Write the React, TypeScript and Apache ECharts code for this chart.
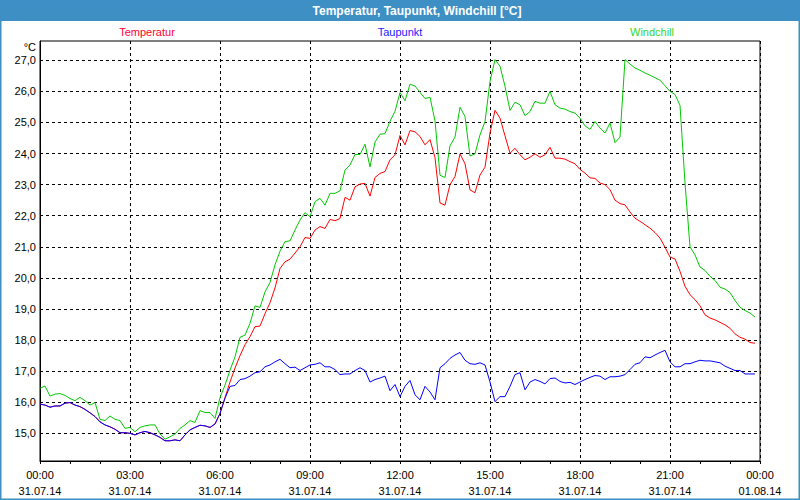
import React, { useEffect, useRef } from "react";
import * as echarts from "echarts";

const TITLE = "Temperatur, Taupunkt, Windchill [°C]";
const SERIES_NAMES = ["Temperatur", "Taupunkt", "Windchill"];
const SERIES_COLORS = ["#ff0000", "#0000ff", "#00c800"];
const LEGEND_COLORS = ["#ff0030", "#1a1aff", "#33d61a"];
const Y_TICKS = [15, 16, 17, 18, 19, 20, 21, 22, 23, 24, 25, 26, 27];
const X_TICK_HOURS = [0, 3, 6, 9, 12, 15, 18, 21, 24];
const X_TICK_DATES = ["31.07.14", "31.07.14", "31.07.14", "31.07.14", "31.07.14", "31.07.14", "31.07.14", "31.07.14", "01.08.14"];

// 10-minute readings, 00:00 .. 23:50
const taupunkt = [
  15.94, 15.91, 15.84, 15.88, 15.88, 15.97,
  15.99, 15.91, 15.86, 15.77, 15.66, 15.54,
  15.37, 15.27, 15.21, 15.13, 15.02, 15.02,
  15.0, 14.95, 15.02, 15.06, 15.02, 14.95,
  14.87, 14.76, 14.76, 14.79, 14.76, 14.95,
  15.11, 15.19, 15.26, 15.24, 15.19, 15.3,
  15.64, 16.13, 16.51, 16.54, 16.73, 16.76,
  16.84, 16.95, 16.98, 17.14, 17.2, 17.3,
  17.38, 17.24, 17.11, 17.13, 17.02, 17.11,
  17.2, 17.22, 17.27, 17.14, 17.14, 17.05,
  16.89, 16.91, 16.91, 17.02, 17.11, 17.02,
  16.65, 16.73, 16.78, 16.84, 16.37, 16.57,
  16.18, 16.51, 16.7, 16.24, 16.08, 16.51,
  16.33, 16.08, 17.11, 17.24, 17.41, 17.52,
  17.6, 17.35, 17.24, 17.22, 17.27, 17.2,
  16.65, 16.02, 16.18, 16.18, 16.51, 16.89,
  16.95, 16.4, 16.65, 16.73, 16.67, 16.59,
  16.76, 16.78, 16.67, 16.62, 16.64, 16.57,
  16.65, 16.73, 16.8, 16.86, 16.84, 16.73,
  16.82, 16.82, 16.84, 16.89, 17.05, 17.22,
  17.27, 17.46, 17.43, 17.52, 17.6, 17.67,
  17.3, 17.14, 17.14, 17.24, 17.24, 17.3,
  17.35, 17.33, 17.33, 17.3, 17.27, 17.16,
  17.09, 17.02, 17.02, 16.91, 16.91, 16.91,
];

const temperatur = [
  15.94, 15.91, 15.84, 15.88, 15.88, 15.97,
  15.99, 15.91, 15.86, 15.77, 15.66, 15.54,
  15.37, 15.27, 15.21, 15.13, 15.02, 15.02,
  15.0, 14.95, 15.02, 15.06, 15.02, 14.95,
  14.87, 14.76, 14.76, 14.79, 14.76, 14.95,
  15.11, 15.19, 15.26, 15.24, 15.19, 15.3,
  15.64, 16.15, 16.65, 17.1, 17.5, 17.85,
  18.11, 18.43, 18.45, 18.85, 19.2, 19.68,
  20.3, 20.52, 20.6, 20.8, 21.0, 21.3,
  21.27, 21.54, 21.65, 21.59, 21.88, 21.84,
  21.91, 22.59, 22.5, 22.93, 23.02, 23.04,
  22.63, 23.23, 23.36, 23.42, 23.8, 23.96,
  24.58, 24.28, 24.74, 24.7, 24.55, 24.28,
  24.45, 23.87, 22.41, 22.34, 23.0, 23.26,
  23.99, 23.67, 22.83, 22.74, 23.31, 23.56,
  24.66, 25.39, 25.14, 24.57, 24.01, 24.17,
  23.96, 23.8, 23.88, 23.99, 23.88, 23.96,
  24.2, 23.85, 23.85, 23.82, 23.74, 23.67,
  23.49, 23.37, 23.22, 23.2, 23.05, 23.0,
  22.84, 22.5, 22.39, 22.35, 22.12, 21.92,
  21.82, 21.71, 21.6, 21.46, 21.28, 20.99,
  20.67, 20.61, 20.21, 19.73, 19.46, 19.3,
  19.1, 18.81, 18.71, 18.65, 18.57, 18.49,
  18.38, 18.2, 18.09, 18.03, 17.92, 17.9,
];

const windchill = [
  16.45, 16.52, 16.2, 16.26, 16.28, 16.22,
  16.12, 16.05, 16.16, 16.05, 15.91, 15.99,
  15.45, 15.41, 15.56, 15.45, 15.41, 15.16,
  15.19, 15.05, 15.19, 15.24, 15.27, 15.27,
  14.98, 14.81, 14.89, 14.98, 15.16, 15.27,
  15.41, 15.35, 15.73, 15.67, 15.67, 15.48,
  16.15, 16.55, 17.03, 17.46, 18.09, 18.16,
  18.54, 19.1, 19.05, 19.55, 19.85, 20.42,
  20.86, 21.17, 21.19, 21.54, 21.86, 22.1,
  21.97, 22.45, 22.56, 22.34, 22.72, 22.72,
  22.8, 23.47, 23.63, 23.97, 23.97, 24.3,
  23.57, 24.37, 24.62, 24.64, 25.04, 25.36,
  25.96, 25.7, 26.23, 26.17, 25.97, 25.77,
  25.81, 25.05, 23.3, 23.23, 24.25, 24.53,
  25.49, 25.19, 23.92, 23.99, 24.6, 25.03,
  26.32, 27.02, 26.81, 26.16, 25.39, 25.65,
  25.57, 25.22, 25.35, 25.68, 25.62, 25.62,
  26.0, 25.57, 25.46, 25.43, 25.35, 25.3,
  25.14, 24.89, 24.78, 25.03, 24.82, 24.66,
  24.98, 24.35, 24.53, 27.02, 26.88, 26.75,
  26.68, 26.59, 26.52, 26.44, 26.36, 26.18,
  26.0, 25.9, 25.55, 23.05, 21.0, 20.74,
  20.35, 20.24, 20.05, 19.92, 19.7, 19.64,
  19.53, 19.27, 19.06, 18.95, 18.87, 18.74,
];

const STEP_MINUTES = 10;
const FONT = "'Liberation Sans', Arial, sans-serif";

function toPairs(values: number[]) {
  return values.map((v, i) => [(i * STEP_MINUTES) / 60, v]);
}

export default function App() {
  const ref = useRef<HTMLDivElement>(null);

  useEffect(() => {
    if (!ref.current) return;
    const chart = echarts.init(ref.current, null, { renderer: "svg" });
    const seriesValues = [temperatur, taupunkt, windchill];

    const legendX = [147, 400, 652];

    chart.setOption({
      animation: false,
      backgroundColor: "#ffffff",
      textStyle: { fontFamily: FONT },
      grid: {
        left: 40,
        top: 41,
        width: 720,
        height: 420,
        show: true,
        borderColor: "#000",
        borderWidth: 1,
        backgroundColor: "transparent",
      },
      xAxis: {
        type: "value",
        min: 0,
        max: 24,
        interval: 3,
        axisLine: { show: true, lineStyle: { color: "#000", width: 1 } },
        axisTick: { show: true, length: 3, lineStyle: { color: "#000" } },
        minorTick: { show: true, splitNumber: 3, length: 3, lineStyle: { color: "#000" } },
        splitLine: { show: true, lineStyle: { color: "#000", type: [3, 3], width: 1 } },
        axisLabel: {
          color: "#000",
          fontSize: 11,
          fontFamily: FONT,
          lineHeight: 16,
          margin: 6,
          formatter: (v: number) => {
            const idx = X_TICK_HOURS.indexOf(v);
            const h = v % 24;
            const hh = (h < 10 ? "0" : "") + h + ":00";
            return hh + "\n" + (idx >= 0 ? X_TICK_DATES[idx] : "");
          },
        },
      },
      yAxis: {
        type: "value",
        min: 14.11,
        max: 27.62,
        axisLine: { show: true, lineStyle: { color: "#000", width: 1 } },
        axisTick: { show: false, customValues: Y_TICKS },
        splitLine: { show: true, lineStyle: { color: "#000", type: [3, 3], width: 1 } },
        axisLabel: {
          customValues: Y_TICKS,
          color: "#000",
          fontSize: 11,
          fontFamily: FONT,
          margin: 4,
          formatter: (v: number) => v.toFixed(1).replace(".", ","),
        },
      },
      series: SERIES_NAMES.map((name, i) => ({
        name,
        type: "line",
        data: toPairs(seriesValues[i]),
        showSymbol: false,
        symbol: "none",
        lineStyle: { color: SERIES_COLORS[i], width: 1 },
        itemStyle: { color: SERIES_COLORS[i] },
        z: 2 + i,
      })),
      graphic: [
        {
          type: "rect",
          shape: { x: 0, y: 0, width: 800, height: 21 },
          style: { fill: "#3d8fc4" },
          z: 10,
        },
        {
          type: "rect",
          shape: { x: 0.5, y: 0.5, width: 799, height: 499 },
          style: { fill: "none", stroke: "#3d8fc4", lineWidth: 2 },
          z: 10,
        },
        {
          type: "text",
          x: 417,
          y: 11,
          style: {
            text: TITLE,
            fill: "#ffffff",
            font: "bold 12px " + FONT,
            align: "center",
            verticalAlign: "middle",
          },
          z: 11,
        },
        ...SERIES_NAMES.map((name, i) => ({
          type: "text",
          x: legendX[i],
          y: 32,
          style: {
            text: name,
            fill: LEGEND_COLORS[i],
            font: "11px " + FONT,
            align: "center",
            verticalAlign: "middle",
          },
          z: 11,
        })),
        {
          type: "text",
          x: 36,
          y: 47,
          style: {
            text: "°C",
            fill: "#000",
            font: "11px " + FONT,
            align: "right",
            verticalAlign: "middle",
          },
          z: 11,
        },
      ],
    });

    return () => chart.dispose();
  }, []);

  return (
    <div
      ref={ref}
      style={{ position: "fixed", left: 0, top: 0, width: 800, height: 500 }}
    />
  );
}
